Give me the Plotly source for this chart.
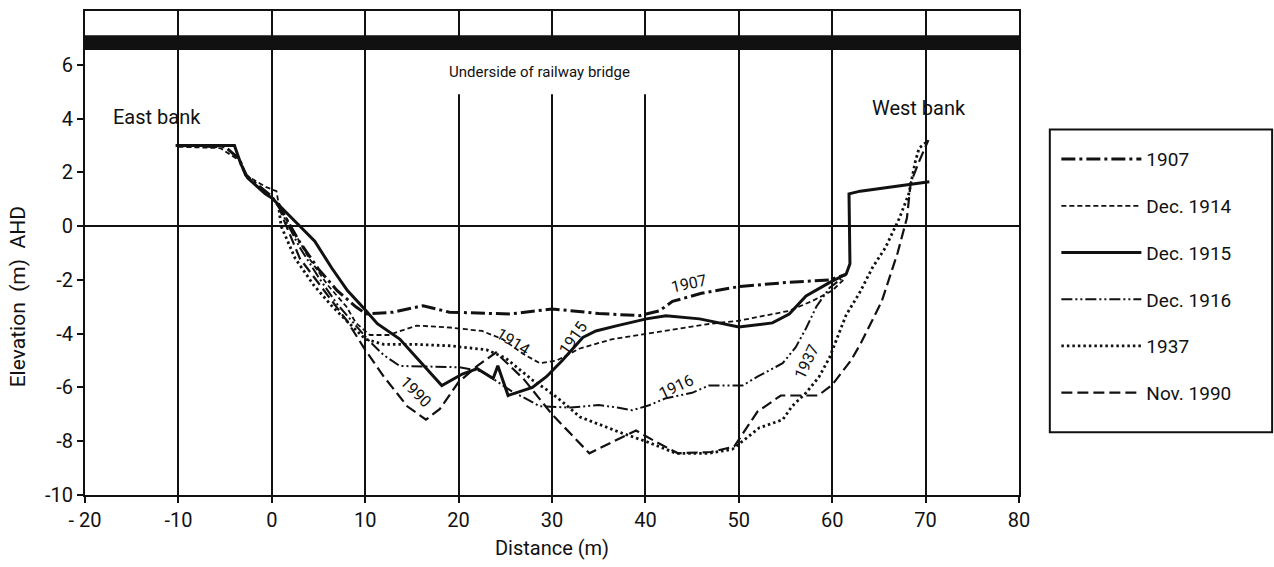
import plotly.graph_objects as go

# ---------------- data ----------------
x_1907 = [-10, -5, -3.5, -2.8, 0, 1, 3, 5, 7, 9, 10.1, 13, 16.2, 19, 25.5, 30, 35, 39.4, 41.5, 42.9, 46, 50, 55, 59.7, 61.5]
y_1907 = [3.0, 2.95, 2.5, 1.9, 1.1, 0.6, -0.6, -1.6, -2.4, -3.0, -3.27, -3.2, -2.96, -3.2, -3.27, -3.08, -3.25, -3.33, -3.15, -2.8, -2.5, -2.25, -2.1, -2.0, -1.8]

x_1914 = [-10, -5.5, -3.3, -2.8, -0.6, 0.5, 0.7, 2, 4, 6, 8, 9, 10.5, 12.5, 15.5, 19, 22.5, 24.7, 26.9, 28.7, 30.5, 32.9, 36.5, 40, 46.8, 50, 55.4, 57.9, 60, 61.2]
y_1914 = [2.95, 2.9, 2.4, 1.9, 1.45, 1.3, 0.9, 0.0, -1.2, -2.2, -3.0, -3.6, -4.05, -4.05, -3.7, -3.77, -3.9, -4.2, -4.75, -5.1, -5.0, -4.56, -4.2, -4.0, -3.64, -3.52, -3.15, -2.78, -2.4, -2.0]

x_1915 = [-10.3, -4, -3.3, -2.6, -0.7, 0, 2.8, 4.6, 6.4, 8.1, 9.9, 11.3, 13.7, 15.8, 18.2, 20.4, 22, 23.7, 24.2, 25.3, 27.9, 29.4, 31.1, 33.3, 34.7, 37, 40.1, 42.2, 45.8, 50, 53.6, 55.4, 57.2, 59.7, 61.5, 61.9, 61.8, 63, 70.4]
y_1915 = [3.0, 3.0, 2.3, 1.8, 1.2, 1.05, 0.07, -0.56, -1.55, -2.4, -3.07, -3.63, -4.2, -5.0, -5.93, -5.5, -5.3, -5.67, -5.19, -6.3, -6.0, -5.6, -5.0, -4.14, -3.9, -3.7, -3.45, -3.33, -3.45, -3.75, -3.6, -3.27, -2.6, -2.1, -1.78, -1.4, 1.2, 1.3, 1.65]

x_1916 = [0.7, 1.5, 3, 5, 7, 9, 10.5, 12, 13.7, 20.1, 22.5, 25.5, 28.7, 32, 35, 37, 38.6, 40.4, 42.2, 45, 46.8, 50.4, 52, 54.7, 56.1, 57.2, 58.3, 59.7, 60.4, 61.2]
y_1916 = [0.8, 0.2, -0.8, -1.9, -2.9, -3.7, -4.3, -4.8, -5.2, -5.25, -5.4, -6.1, -6.7, -6.75, -6.65, -6.75, -6.85, -6.66, -6.4, -6.2, -5.93, -5.93, -5.6, -5.1, -4.5, -3.8, -3.0, -2.3, -2.1, -1.9]

x_1937 = [0.7, 1, 2.5, 4.5, 6.5, 8.5, 10, 12, 15.5, 19, 23, 25, 28, 29.5, 31, 33, 37.5, 40, 43.3, 46.8, 49.3, 50.4, 52.2, 54.7, 55.7, 57.2, 58.6, 59.7, 60.7, 61.5, 62.9, 64.3, 65.7, 67.2, 68.2, 68.9, 69.3, 70]
y_1937 = [0.8, 0.0, -1.2, -2.2, -3.0, -3.7, -4.2, -4.4, -4.4, -4.45, -4.6, -4.9, -5.75, -6.1, -6.5, -7.1, -7.7, -8.0, -8.45, -8.45, -8.3, -8.0, -7.5, -7.2, -6.7, -6.2, -5.6, -4.9, -4.0, -3.3, -2.5, -1.55, -0.8, 0.3, 1.2, 2.4, 2.9, 3.1]

x_1990 = [0.7, 1.2, 3, 6, 8, 10, 12, 14.5, 16.5, 18, 20, 22, 24, 27, 30, 34, 36, 39, 41, 43.5, 47, 49.5, 52, 54.5, 58.5, 60, 62, 63, 65.3, 67, 68, 68.4, 69.3, 70.3]
y_1990 = [0.8, 0.3, -1.2, -2.6, -3.5, -4.6, -5.6, -6.7, -7.2, -6.8, -5.8, -5.2, -4.7, -5.7, -7.0, -8.45, -8.1, -7.6, -8.0, -8.45, -8.4, -8.2, -6.9, -6.3, -6.3, -5.9, -5.0, -4.4, -2.8, -1.0, 0.3, 1.6, 2.4, 3.2]

bridge_bottom, bridge_top = 6.55, 7.1

x_ticks = [-20, -10, 0, 10, 20, 30, 40, 50, 60, 70, 80]
x_ticklabels = ["- 20", "-10", "0", "10", "20", "30", "40", "50", "60", "70", "80"]
y_ticks = [-10, -8, -6, -4, -2, 0, 2, 4, 6]
y_ticklabels = ["-10", "-8", "-6", "-4", "-2", "0", "2", "4", "6"]

# ---------------- figure ----------------
FONT = "Roboto"
INK = "#111111"

series = [
    ("1907", x_1907, y_1907, "14px,4px,3px,4px", 3.0),
    ("Dec. 1914", x_1914, y_1914, "5px,3px", 1.8),
    ("Dec. 1915", x_1915, y_1915, "solid", 3.0),
    ("Dec. 1916", x_1916, y_1916, "11px,3px,2px,3px,2px,3px", 2.0),
    ("1937", x_1937, y_1937, "2.5px,3px", 2.8),
    ("Nov. 1990", x_1990, y_1990, "11px,5px", 2.2),
]

fig = go.Figure()
for i, (name, xs, ys, dash, w) in enumerate(series):
    fig.add_trace(go.Scatter(
        x=xs, y=ys, mode="lines", name=name, legendgroup=str(i),
        line=dict(color=INK, width=w, dash=dash),
    ))

# bridge underside band
fig.add_shape(type="rect", xref="paper", x0=0, x1=1, yref="y",
              y0=bridge_bottom, y1=bridge_top, fillcolor=INK, line=dict(width=0),
              layer="above")
# blank area behind the bridge label (grid lines interrupted)
fig.add_shape(type="rect", xref="x", x0=10.4, x1=49.6, yref="y",
              y0=4.9, y1=bridge_bottom, fillcolor="white", line=dict(width=0),
              layer="between")
# legend frame
fig.add_shape(type="rect", xref="paper", yref="paper", x0=1.033, x1=1.271,
              y0=0.1296, y1=0.755, line=dict(color=INK, width=2), fillcolor="rgba(0,0,0,0)")

ann_font = dict(family=FONT, color=INK)
fig.add_annotation(x=-12.3, y=4.05, text="East bank", showarrow=False,
                   font=dict(size=20, **ann_font))
fig.add_annotation(x=69.3, y=4.4, text="West bank", showarrow=False,
                   font=dict(size=20, **ann_font))
fig.add_annotation(x=28.7, y=5.75, text="Underside of railway bridge", showarrow=False,
                   font=dict(size=15, **ann_font))

labels = [
    ("1907", 44.7, -2.15, -12),
    ("1914", 25.8, -4.3, 32),
    ("1915", 32.3, -4.15, -55),
    ("1916", 43.3, -5.95, -25),
    ("1937", 57.3, -5.05, -65),
    ("1990", 15.4, -6.15, 45),
]
for t, lx, ly, ang in labels:
    fig.add_annotation(x=lx, y=ly, text=t, showarrow=False, textangle=ang,
                       font=dict(size=16, **ann_font))

# y-axis title placed as in the reference
fig.add_annotation(xref="paper", yref="paper", x=-0.072, xanchor="center",
                   y=0.41, yanchor="middle",
                   text="Elevation  (m)  AHD", textangle=-90, showarrow=False,
                   font=dict(size=21, **ann_font))

fig.update_layout(
    width=1274, height=567,
    margin=dict(l=85, r=255, t=9, b=72),
    paper_bgcolor="white", plot_bgcolor="white",
    font=dict(family=FONT, size=20, color=INK),
    showlegend=True,
    legend=dict(
        x=1.04, xanchor="left", y=0.733, yanchor="top",
        borderwidth=0, bgcolor="rgba(0,0,0,0)",
        font=dict(family=FONT, size=19, color=INK),
        tracegroupgap=19, itemwidth=80,
    ),
    xaxis=dict(
        range=[-20, 80], tickmode="array", tickvals=x_ticks, ticktext=x_ticklabels,
        showgrid=True, gridcolor=INK, gridwidth=2,
        zeroline=False, showline=True, linecolor=INK, linewidth=2, mirror=True,
        ticks="outside", ticklen=6, tickwidth=2, tickcolor=INK,
        title=dict(text="Distance (m)", standoff=10, font=dict(size=20)),
    ),
    yaxis=dict(
        range=[-10, 8], tickmode="array", tickvals=y_ticks, ticktext=y_ticklabels,
        showgrid=False, zeroline=True, zerolinecolor=INK, zerolinewidth=1.5,
        showline=True, linecolor=INK, linewidth=2, mirror=True,
        ticks="outside", ticklen=6, tickwidth=2, tickcolor=INK,
    ),
)

fig.write_html("out.html", config={"displayModeBar": False},
               post_script="document.body.style.margin='0px';")
